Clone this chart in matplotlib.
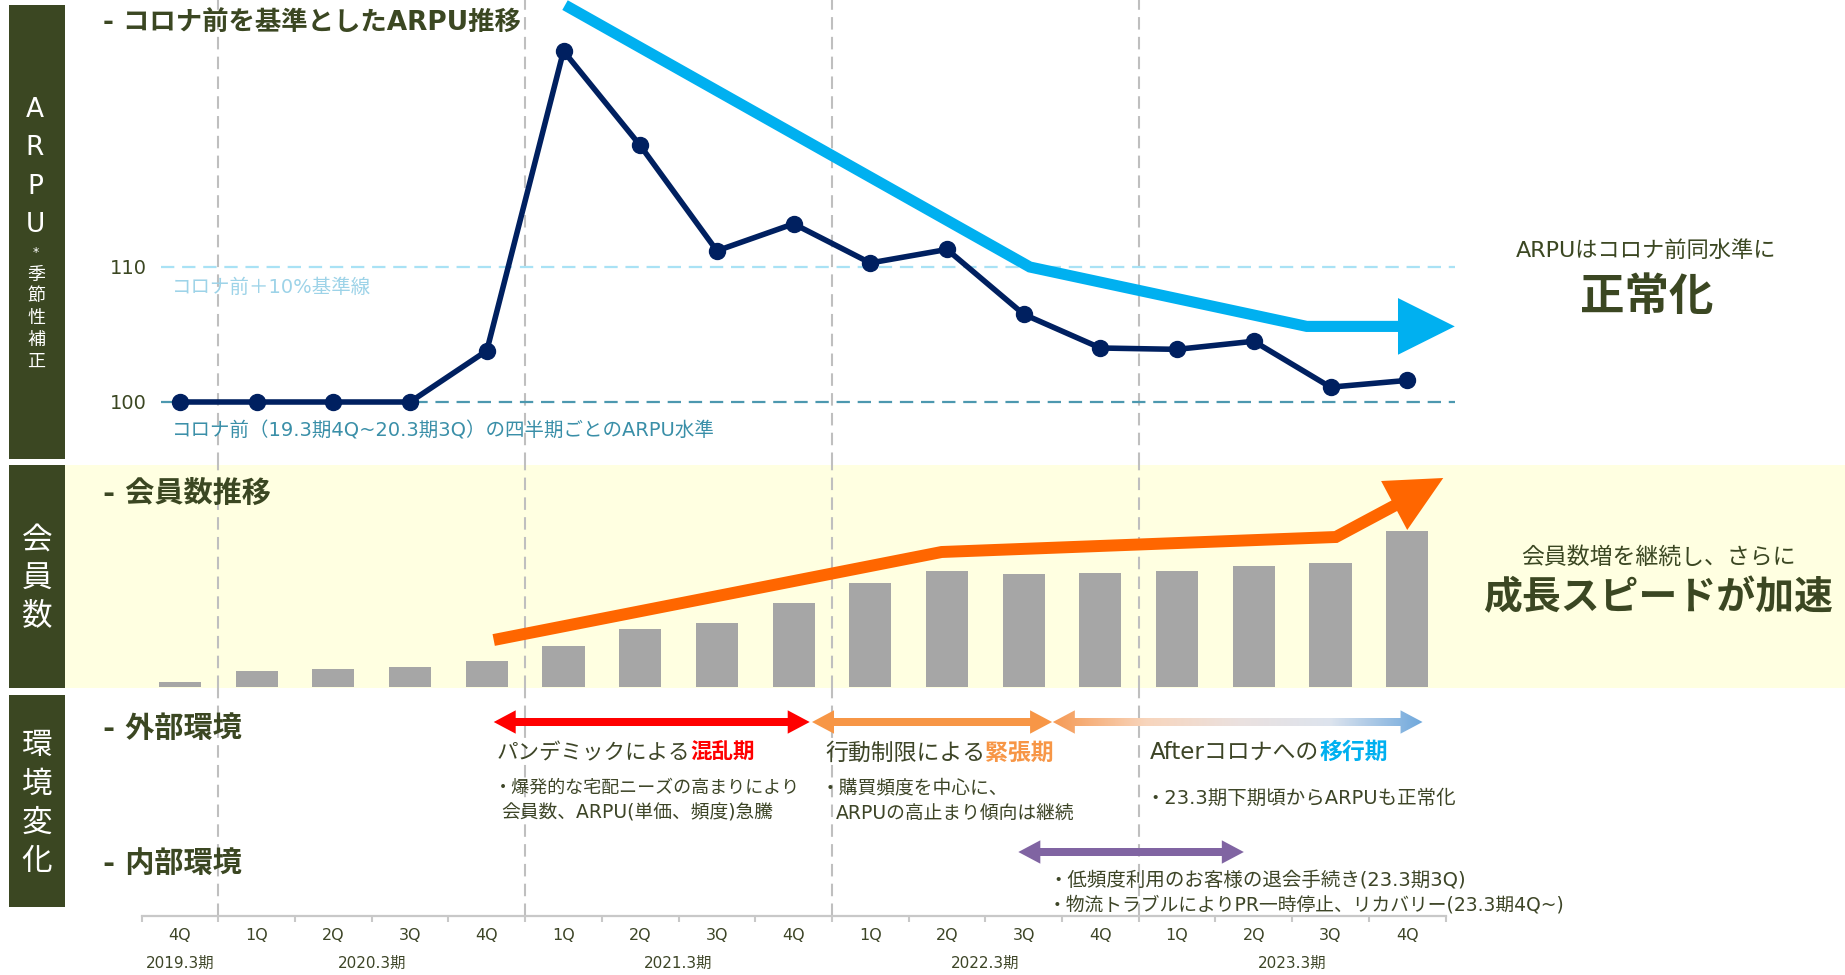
import numpy as np
import matplotlib
matplotlib.use('Agg')
import matplotlib.pyplot as plt
from matplotlib.patches import Polygon, Rectangle
from matplotlib.colors import LinearSegmentedColormap

# latin glyphs from DejaVu (wide, like the original Meiryo), kana/kanji from Noto CJK
plt.rcParams['font.family'] = ['DejaVu Sans', 'Noto Sans CJK JP']

# ---- data ----
quarters = ['4Q', '1Q', '2Q', '3Q', '4Q', '1Q', '2Q', '3Q', '4Q',
            '1Q', '2Q', '3Q', '4Q', '1Q', '2Q', '3Q', '4Q']
fiscal_years = ['2019.3期', '2020.3期', '2021.3期', '2022.3期', '2023.3期']
fiscal_year_centers = [0, 2.5, 6.5, 10.5, 14.5]
period_breaks = [0.5, 4.5, 8.5, 12.5]

# ARPU index, pre-covid = 100 (seasonally adjusted)
arpu = [100, 100, 100, 100, 103.8, 126.0, 119.0, 111.2, 113.2,
        110.3, 111.3, 106.5, 104.0, 103.9, 104.5, 101.1, 101.6]
# member count, relative bar height (no axis in the original)
members = [5, 16, 18, 20, 26, 41, 58, 64, 84, 104, 116, 113, 114, 116, 121, 124, 156]

# hand drawn trend arrows
arpu_trend_x = [5.02, 11.08, 14.69, 15.88]
arpu_trend_y = [129.4, 110.0, 105.6, 105.6]
arpu_head_x = [15.88, 16.62, 15.88]
arpu_head_y = [107.7, 105.6, 103.5]
member_trend_x = [4.09, 9.93, 15.07, 15.85]
member_trend_y = [47, 135, 150, 182]
member_head_x = [15.66, 16.47, 16.0]
member_head_y = [206, 209, 157]

# period arrows (start idx, end idx)
red_span = (4.09, 8.21)
orange_span = (8.24, 11.37)
after_span = (11.38, 16.2)
purple_span = (10.93, 13.87)

OLIVE = '#3B4722'
TXT = '#3D4527'

W, H = 1845, 975
PX = 76.7        # pixels per quarter
X_ORIGIN = 180   # pixel x of first quarter

fig = plt.figure(figsize=(W / 100, H / 100), dpi=100)


def rect(x0, y0, x1, y1):
    return [x0 / W, 1 - y1 / H, (x1 - x0) / W, (y1 - y0) / H]


def xl(x0, x1):
    return ((x0 - X_ORIGIN) / PX, (x1 - X_ORIGIN) / PX)


def ft(px, py, s, **kw):
    kw.setdefault('color', TXT)
    kw.setdefault('va', 'center')
    return fig.text(px / W, 1 - py / H, s, **kw)


# left dark panels
for y0, y1 in [(5, 459), (465, 688), (695, 907)]:
    fig.patches.append(Rectangle((9 / W, 1 - y1 / H), 56 / W, (y1 - y0) / H,
                                 transform=fig.transFigure, fc=OLIVE, ec='none'))

for ch, py in zip('ARPU', [110, 148, 187, 225]):
    ft(35, py, ch, color='white', fontsize=19, ha='center')
ft(36, 252, '*', color='white', fontsize=9, ha='center')
for ch, py in zip('季節性補正', [275, 296, 318, 340, 362]):
    ft(36, py, ch, color='white', fontsize=13, ha='center')
for ch, py in zip('会員数', [541, 579, 616]):
    ft(37, py, ch, color='white', fontsize=22, ha='center')
for ch, py in zip('環境変化', [746, 784, 823, 861]):
    ft(37, py, ch, color='white', fontsize=22, ha='center')

# ---- ARPU panel ----
ax1 = fig.add_axes(rect(152, 0, 1845, 465))
ax1.set_xlim(xl(152, 1845))
ax1.set_ylim(100 - (465 - 402) / 13.5, 100 + 402 / 13.5)
for s in ax1.spines.values():
    s.set_visible(False)
ax1.set_xticks([])
ax1.set_yticks([100, 110])
ax1.tick_params(axis='y', length=0, pad=4, labelsize=14, labelcolor=OLIVE)
ax1.patch.set_alpha(0)

for b in period_breaks:
    ax1.axvline(b, color='#BFBFBF', lw=1.5, ls=(0, (6, 3.5)), zorder=0.5)
ax1.hlines(110, -0.25, 16.62, color='#A9E2F5', lw=1.6, ls=(0, (6, 3.5)), zorder=1)
ax1.hlines(100, -0.25, 16.62, color='#4C98AF', lw=1.6, ls=(0, (6, 3.5)), zorder=1)
ax1.text(-0.1, 108.45, 'コロナ前＋10%基準線', color='#9DD3E8', fontsize=14, va='center')
ax1.text(-0.1, 97.85, 'コロナ前（19.3期4Q~20.3期3Q）の四半期ごとのARPU水準',
         color='#3A8FA8', fontsize=14, va='center')

x = np.arange(len(arpu))
ax1.plot(arpu_trend_x, arpu_trend_y, color='#00B0F0', lw=8, solid_joinstyle='miter',
         solid_capstyle='butt', zorder=2)
ax1.fill(arpu_head_x, arpu_head_y, color='#00B0F0', lw=0, zorder=2)
ax1.plot(x, arpu, color='#002060', lw=4, marker='o', ms=11.5, zorder=4)

ft(103, 24, '- コロナ前を基準としたARPU推移', color=OLIVE, fontsize=19, fontweight='bold')
ft(1646, 251, 'ARPUはコロナ前同水準に', color=OLIVE, fontsize=16, ha='center')
ft(1647, 297, '正常化', color=OLIVE, fontsize=32, fontweight='bold', ha='center')

# ---- member panel ----
ax2 = fig.add_axes(rect(64, 465, 1845, 688))
ax2.set_facecolor('#FFFFE1')
for s in ax2.spines.values():
    s.set_visible(False)
ax2.set_xticks([])
ax2.set_yticks([])
for b in period_breaks:
    ax2.axvline(b, color='#BFBFBF', lw=1.5, ls=(0, (6, 3.5)), zorder=0.5)
ax2.bar(x, members, width=0.55, color='#A6A6A6', zorder=2)
ax2.plot(member_trend_x, member_trend_y, color='#FF6600', lw=8.6, solid_joinstyle='miter',
         solid_capstyle='butt', zorder=3)
ax2.fill(member_head_x, member_head_y, color='#FF6600', lw=0, zorder=3)
ax2.set_xlim(xl(64, 1845))
ax2.set_ylim(-1, 222)

ft(103, 494, '- 会員数推移', color=OLIVE, fontsize=21, fontweight='bold')
ft(1658, 557, '会員数増を継続し、さらに', color=OLIVE, fontsize=16.5, ha='center')
ft(1658, 598, '成長スピードが加速', color=OLIVE, fontsize=28, fontweight='bold', ha='center')

# ---- environment panel + x axis ----
ax3 = fig.add_axes(rect(64, 688, 1845, 916))
ax3.patch.set_alpha(0)
for k in ['top', 'right', 'left']:
    ax3.spines[k].set_visible(False)
ax3.spines['bottom'].set_color('#C8C8C8')
ax3.spines['bottom'].set_linewidth(1.6)
ax3.spines['bottom'].set_bounds(-0.5, 16.5)
ax3.set_yticks([])
ax3.set_xticks(x)
ax3.set_xticklabels(quarters)
ax3.set_xticks(np.arange(-0.5, 17, 1), minor=True)
ax3.tick_params(axis='x', which='major', length=0, pad=9, labelsize=11.5, labelcolor=TXT)
ax3.tick_params(axis='x', which='minor', length=4, width=1.5, color='#C8C8C8')
for c, lab in zip(fiscal_year_centers, fiscal_years):
    ax3.text(c, -47, lab, ha='center', va='center', fontsize=11, color=TXT, clip_on=False)
for b in period_breaks:
    ax3.axvline(b, color='#BFBFBF', lw=1.5, ls=(0, (6, 3.5)), zorder=0.5)

HL = 22 / PX
HW, SW = 11.7, 4.0


def arrow_pts(x0, x1, y, left=True):
    if left:
        pts = [(x0, y), (x0 + HL, y + HW), (x0 + HL, y + SW)]
    else:
        pts = [(x0, y + SW)]
    pts += [(x1 - HL, y + SW), (x1 - HL, y + HW), (x1, y), (x1 - HL, y - HW), (x1 - HL, y - SW)]
    if left:
        pts += [(x0 + HL, y - SW), (x0 + HL, y - HW)]
    else:
        pts += [(x0, y - SW)]
    return pts


y_ext = 916 - 722
y_int = 916 - 852
ax3.add_patch(Polygon(arrow_pts(*red_span, y_ext), fc='#FF0000', ec='none', zorder=2))
ax3.add_patch(Polygon(arrow_pts(*orange_span, y_ext), fc='#F79646', ec='none', zorder=2))
ax3.add_patch(Polygon(arrow_pts(*purple_span, y_int), fc='#8064A2', ec='none', zorder=2))

grad_poly = Polygon(arrow_pts(*after_span, y_ext), fc='none', ec='none')
ax3.add_patch(grad_poly)
cmap = LinearSegmentedColormap.from_list('after', ['#F59A55', '#F8D5BC', '#EBE1DF', '#DDE4EE', '#6FA8DC'])
im = ax3.imshow(np.linspace(0, 1, 256).reshape(1, -1), cmap=cmap, aspect='auto',
                extent=[after_span[0], after_span[1], y_ext - HW, y_ext + HW], zorder=2)
im.set_clip_path(grad_poly)

ax3.set_xlim(xl(64, 1845))
ax3.set_ylim(0, 228)

ft(103, 729, '- 外部環境', color=OLIVE, fontsize=21, fontweight='bold')
ft(103, 864, '- 内部環境', color=OLIVE, fontsize=21, fontweight='bold')


def two_tone(px, py, s1, s2, c2, size=16):
    t1 = ft(px, py, s1, fontsize=size, ha='left')
    ax3.annotate(s2, xy=(1, 0.5), xycoords=t1, va='center', ha='left',
                 fontsize=size, fontweight='bold', color=c2)


two_tone(497, 753, 'パンデミックによる', '混乱期', '#FF0000', 15.5)
ft(494, 788, '・爆発的な宅配ニーズの高まりにより', fontsize=13)
ft(501, 813, '会員数、ARPU(単価、頻度)急騰', fontsize=13.5)
two_tone(825, 753, '行動制限による', '緊張期', '#F79646', 16.5)
ft(821, 788, '・購買頻度を中心に、', fontsize=13.5)
ft(836, 813, 'ARPUの高止まり傾向は継続', fontsize=13.5)
two_tone(1150, 752, 'Afterコロナへの', '移行期', '#00B0F0', 16.5)
ft(1145, 798, '・23.3期下期頃からARPUも正常化', fontsize=14)
ft(1048, 881, '・低頻度利用のお客様の退会手続き(23.3期3Q)', fontsize=14)
ft(1048, 905, '・物流トラブルによりPR一時停止、リカバリー(23.3期4Q~)', fontsize=13.5)

fig.savefig('out.png', dpi=100)
